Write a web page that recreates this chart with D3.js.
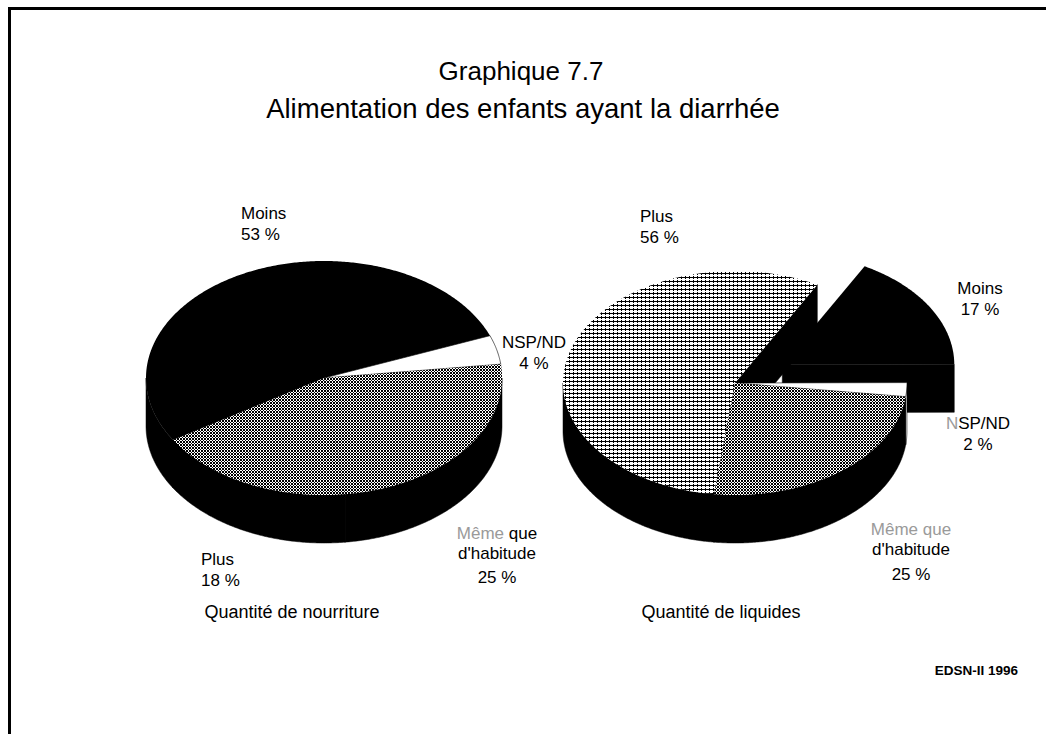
<!DOCTYPE html>
<html>
<head>
<meta charset="utf-8">
<script src="https://cdn.jsdelivr.net/npm/d3@7"></script>
<style>
  html, body { margin: 0; padding: 0; background: #fff; }
  svg text { font-family: "Liberation Sans", Arial, Helvetica, sans-serif; }
</style>
</head>
<body>
<svg id="chart" width="1046" height="734"></svg>
<script>
// Répartition (%) des enfants ayant la diarrhée selon la quantité donnée
const foodCategories   = ["Moins", "NSP/ND", "Même que d'habitude", "Plus"];
const foodValues       = [53, 4, 25, 18];
const liquidCategories = ["Plus", "Moins", "NSP/ND", "Même que d'habitude"];
const liquidValues     = [56, 17, 2, 25];

const titleLines = ["Graphique 7.7", "Alimentation des enfants ayant la diarrhée"];
const pieTitles  = ["Quantité de nourriture", "Quantité de liquides"];
const sourceNote = "EDSN-II 1996";

const svg = d3.select("#chart");

// Trames des faces supérieures
const defs = svg.append("defs");
const dense = defs.append("pattern").attr("id", "dense")
  .attr("width", 3).attr("height", 3).attr("patternUnits", "userSpaceOnUse");
dense.append("rect").attr("width", 3).attr("height", 3).attr("fill", "#fff");
dense.append("rect").attr("width", 2).attr("height", 2).attr("fill", "#000");
dense.append("rect").attr("x", 2).attr("y", 2).attr("width", 1).attr("height", 1).attr("fill", "#000");

const light = defs.append("pattern").attr("id", "light")
  .attr("width", 4).attr("height", 4).attr("patternUnits", "userSpaceOnUse");
light.append("rect").attr("width", 4).attr("height", 4).attr("fill", "#fff");
light.append("rect").attr("x", 1).attr("y", 0).attr("width", 1).attr("height", 3).attr("fill", "#000");
light.append("rect").attr("x", 0).attr("y", 1).attr("width", 4).attr("height", 1).attr("fill", "#000");

const topFill = {
  "Moins": "#000",
  "NSP/ND": "#fff",
  "Même que d'habitude": "url(#dense)",
  "Plus": "url(#dense)"
};
const wallFill = { "NSP/ND": "#fff" };   // autres parois : noir

// Cadre
svg.append("path")
  .attr("d", "M9.5,734 V8.5 H1046")
  .attr("fill", "none").attr("stroke", "#000").attr("stroke-width", 3);

// Titre
svg.append("text").attr("x", 521).attr("y", 80).attr("text-anchor", "middle")
  .attr("font-size", 26).text(titleLines[0]);
svg.append("text").attr("x", 523).attr("y", 118).attr("text-anchor", "middle")
  .attr("font-size", 27.5).text(titleLines[1]);

// Camembert 3D : ellipse (rx, ry) + épaisseur
function pie3d(g, cats, vals, opt) {
  const pie = d3.pie().sort(null).value(d => d.v)
    .startAngle(opt.start).endAngle(opt.start + 2 * Math.PI);
  const arcs = pie(cats.map((c, i) => ({ c, v: vals[i] })));
  const sx = d3.scaleLinear().domain([-1, 1]).range([opt.cx - opt.rx, opt.cx + opt.rx]);
  const sy = d3.scaleLinear().domain([-1, 1]).range([opt.cy - opt.ry, opt.cy + opt.ry]);

  const P = (a, off, dz) => [sx(Math.sin(a)) + off[0], sy(-Math.cos(a)) + off[1] + dz];
  const arcPts = (a0, a1, off, dz) => {
    const n = Math.max(2, Math.ceil(Math.abs(a1 - a0) / 0.01));
    return d3.range(n + 1).map(k => P(a0 + (a1 - a0) * k / n, off, dz));
  };
  const line = d3.line();

  const slices = arcs.map(a => {
    const mid = (a.startAngle + a.endAngle) / 2;
    const e = opt.explode[a.data.c] || 0;
    const off = [e * opt.rx * Math.sin(mid), -e * opt.ry * Math.cos(mid)];
    return { a, off, c: a.data.c };
  });

  const wallG = g.append("g");
  const topG = g.append("g");

  slices.forEach(s => {
    const { a, off, c } = s;
    const a0 = a.startAngle, a1 = a.endAngle;
    const wf = wallFill[c] || "#000";
    const ctr = [opt.cx + off[0], opt.cy + off[1]];
    // faces radiales
    const radial = ang => {
      const p = P(ang, off, 0);
      return [ctr, p, [p[0], p[1] + opt.depth], [ctr[0], ctr[1] + opt.depth]];
    };
    if (Math.sin(a0) < 0) wallG.append("path").attr("d", line(radial(a0)) + "Z").attr("fill", wf).attr("stroke", "#000").attr("stroke-width", 0.5);
    if (Math.sin(a1) > 0) wallG.append("path").attr("d", line(radial(a1)) + "Z").attr("fill", wf).attr("stroke", "#000").attr("stroke-width", 0.5);
    // paroi extérieure (partie visible : angles entre 90° et 270°)
    for (let k = -1; k <= 2; k++) {
      const lo = Math.max(a0, Math.PI / 2 + 2 * Math.PI * k);
      const hi = Math.min(a1, 3 * Math.PI / 2 + 2 * Math.PI * k);
      if (hi > lo) {
        const top = arcPts(lo, hi, off, 0);
        const bot = arcPts(hi, lo, off, opt.depth);
        wallG.append("path").attr("d", line(top.concat(bot)) + "Z")
          .attr("fill", wf).attr("stroke", "#000").attr("stroke-width", 0.5);
      }
    }
    // face supérieure
    const pts = [ctr].concat(arcPts(a0, a1, off, 0));
    topG.append("path").attr("d", line(pts) + "Z")
      .attr("fill", opt.topFill[c] || topFill[c])
      .attr("stroke", c === "NSP/ND" ? "#000" : "none").attr("stroke-width", 0.6);
  });
}

const deg = Math.PI / 180;
pie3d(svg.append("g"), foodCategories, foodValues, {
  cx: 324, cy: 378, rx: 178, ry: 117, depth: 48, start: 238 * deg,
  explode: {}, topFill: {}
});
pie3d(svg.append("g"), liquidCategories, liquidValues, {
  cx: 735, cy: 383, rx: 172, ry: 112, depth: 48, start: 187 * deg,
  explode: { "Moins": 0.32 }, topFill: { "Plus": "url(#light)" }
});

// Étiquettes
const lab = svg.append("g").attr("font-size", 17).attr("fill", "#000");
function label(x, y, lines, anchor) {
  const t = lab.append("text").attr("x", x).attr("y", y).attr("text-anchor", anchor || "middle");
  lines.forEach((ln, i) => {
    const ts = t.append("tspan").attr("x", x).attr("dy", i === 0 ? 0 : ln.dy);
    ln.parts.forEach(p => ts.append("tspan").attr("fill", p.grey ? "#9a9a9a" : "#000").text(p.t));
  });
}
const P1 = t => ({ parts: [{ t }], dy: 20.5 });

label(241, 219, [P1(foodCategories[0]), P1(foodValues[0] + " %")], "start");
label(534, 348, [P1(foodCategories[1]), P1(foodValues[1] + " %")]);
label(497, 539, [
  { parts: [{ t: "Même", grey: true }, { t: " que" }] },
  { parts: [{ t: "d'habitude" }], dy: 19.5 },
  { parts: [{ t: foodValues[2] + " %" }], dy: 24 }
]);
label(201, 565, [P1(foodCategories[3]), P1(foodValues[3] + " %")], "start");

label(640, 222, [P1(liquidCategories[0]), P1(liquidValues[0] + " %")], "start");
label(980, 294, [P1(liquidCategories[1]), P1(liquidValues[1] + " %")]);
label(978, 429, [
  { parts: [{ t: "N", grey: true }, { t: "SP/ND" }] },
  { parts: [{ t: liquidValues[2] + " %" }], dy: 21 }
]);
label(911, 535, [
  { parts: [{ t: "Même que", grey: true }] },
  { parts: [{ t: "d'habitude" }], dy: 19.5 },
  { parts: [{ t: liquidValues[3] + " %" }], dy: 25 }
]);

svg.append("text").attr("x", 292).attr("y", 618).attr("text-anchor", "middle")
  .attr("font-size", 18).text(pieTitles[0]);
svg.append("text").attr("x", 721).attr("y", 618).attr("text-anchor", "middle")
  .attr("font-size", 18).text(pieTitles[1]);

svg.append("text").attr("x", 1018).attr("y", 675).attr("text-anchor", "end")
  .attr("font-size", 13.5).attr("font-weight", "bold").text(sourceNote);
</script>
</body>
</html>
